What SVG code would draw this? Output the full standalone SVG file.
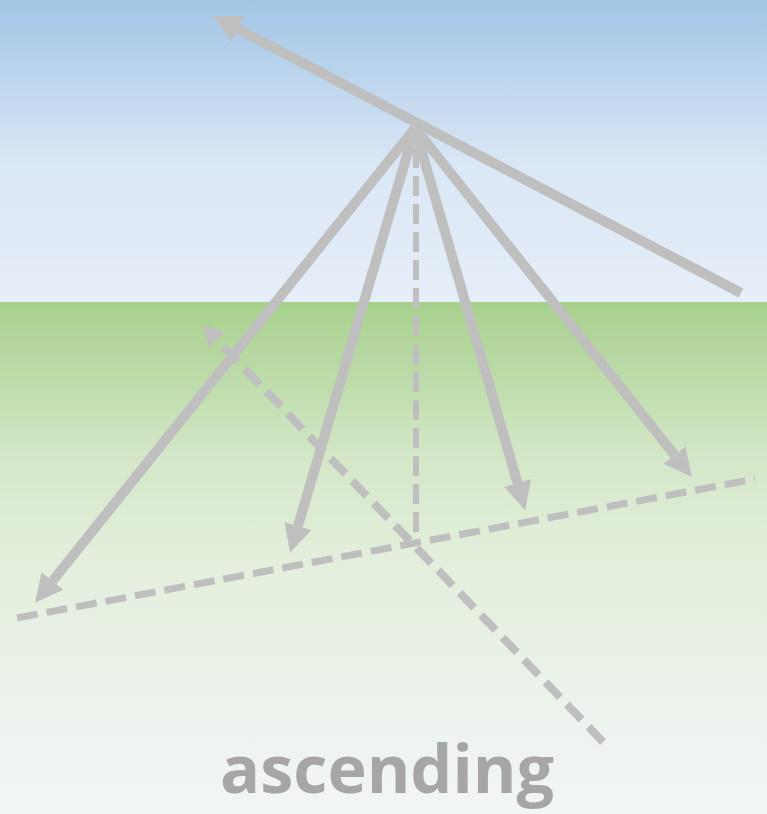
<svg xmlns="http://www.w3.org/2000/svg" width="767" height="814" viewBox="0 0 767 814">
  <defs>
    <linearGradient id="sky" x1="0" y1="0" x2="0" y2="1">
      <stop offset="0" stop-color="#a2c5e6"/>
      <stop offset="0.55" stop-color="#dae7f5"/>
      <stop offset="1" stop-color="#e6eef8"/>
    </linearGradient>
    <linearGradient id="ground" x1="0" y1="0" x2="0" y2="1">
      <stop offset="0" stop-color="#a7d08c"/>
      <stop offset="0.3" stop-color="#d3e7c7"/>
      <stop offset="0.5" stop-color="#e3efdc"/>
      <stop offset="1" stop-color="#f2f5f6"/>
    </linearGradient>
    <marker id="ah" markerUnits="userSpaceOnUse" orient="auto" markerWidth="40" markerHeight="40" viewBox="0 -20 40 40" refX="0" refY="0">
      <path d="M0,-14 L28,0 L0,14 z" fill="#bfbfbf"/>
    </marker>
    <marker id="ahs" markerUnits="userSpaceOnUse" orient="auto" markerWidth="30" markerHeight="30" viewBox="0 -15 30 30" refX="0" refY="0">
      <path d="M0,-11 L21,0 L0,11 z" fill="#bfbfbf"/>
    </marker>
  </defs>
  <style>
    .solid { stroke: #bfbfbf; stroke-width: 10; fill: none; marker-end: url(#ah); }
    .dash { stroke: #bfbfbf; fill: none; }
    .label { font-family: "Open Sans", "Liberation Sans", sans-serif; font-weight: bold; font-size: 66px; fill: #a6a6a6; }
  </style>
  <rect x="0" y="0" width="767" height="302" fill="url(#sky)"/>
  <rect x="0" y="302" width="767" height="512" fill="url(#ground)"/>

  <g id="connectors">
    <line id="plane" class="dash" x1="17" y1="618" x2="755" y2="479" stroke-width="7" stroke-dasharray="21 9"/>
    <line id="normal" class="dash" x1="416" y1="148" x2="416" y2="540" stroke-width="6" stroke-dasharray="20 8"/>
    <line id="diag" class="dash" x1="603" y1="742" x2="217" y2="340" stroke-width="8" stroke-dasharray="21 10" marker-end="url(#ahs)"/>
    <line id="incident" class="solid" x1="741" y1="293" x2="238" y2="29"/>
    <line id="r1" class="solid" x1="415" y1="128" x2="52.5" y2="581"/>
    <line id="r2" class="solid" x1="415" y1="128" x2="298" y2="526"/>
    <line id="r3" class="solid" x1="415" y1="128" x2="517.5" y2="483"/>
    <line id="r4" class="solid" x1="415" y1="128" x2="674.5" y2="455"/>
  </g>

  <g id="label">
    <text class="label" x="387" y="793" text-anchor="middle" textLength="334" lengthAdjust="spacingAndGlyphs">ascending</text>
  </g>
</svg>
